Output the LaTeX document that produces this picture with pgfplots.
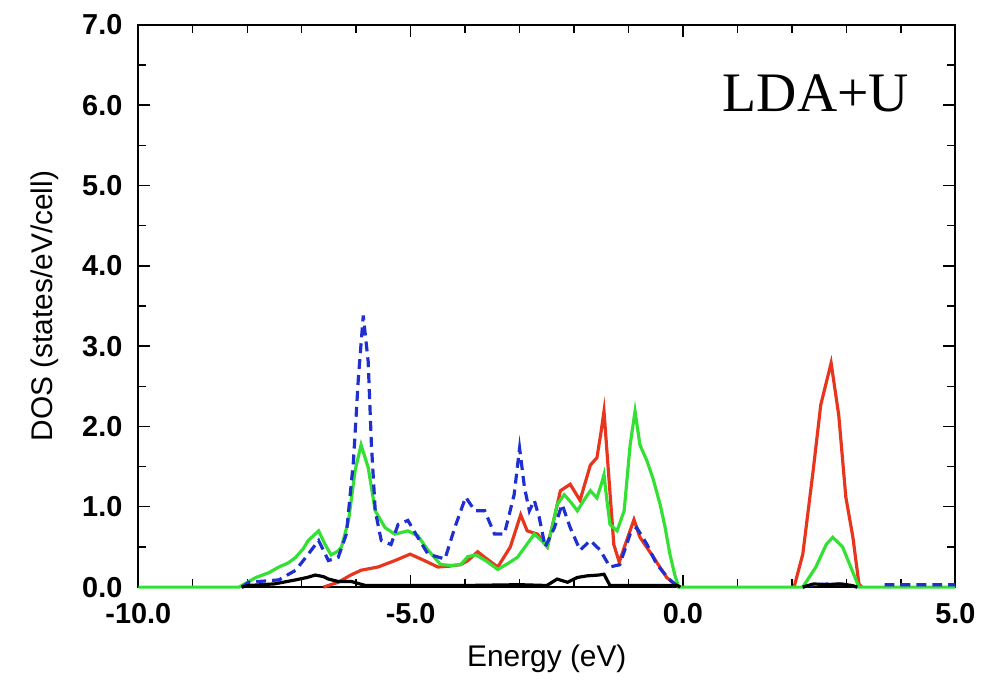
\documentclass[border=0pt]{standalone}
\usepackage{fontspec}
\setmainfont{Liberation Sans}
\newfontfamily\titlefont{Liberation Serif}
\usepackage{pgfplots}
\pgfplotsset{compat=1.18}
\definecolor{cred}{HTML}{E8361E}
\definecolor{cgreen}{HTML}{35E035}
\definecolor{cblue}{HTML}{2030D0}
\begin{document}
\begin{tikzpicture}
\begin{axis}[
  name=ax,
  scale only axis,
  width=410.5pt, height=282.5pt,
  xmin=-10, xmax=5, ymin=0, ymax=7,
  xtick={-10,-5,0,5}, ytick={0,1,...,7},
  minor xtick={-9,-8,-7,-6,-4,-3,-2,-1,1,2,3,4},
  minor ytick={0.5,1.5,2.5,3.5,4.5,5.5,6.5},
  tick align=inside,
  major tick length=6pt, minor tick length=4pt,
  tick style={black, line width=0.7pt},
  axis line style={line width=0.9pt},
  xticklabels={-10.0,-5.0,0.0,5.0},
  yticklabel style={/pgf/number format/fixed, /pgf/number format/fixed zerofill, /pgf/number format/precision=1, /pgf/number format/assume math mode=true, xshift=-4.5pt},
  ticklabel style={font=\fontsize{14.5}{17}\selectfont\bfseries},
  xticklabel style={yshift=-4.5pt},
  xlabel={Energy (eV)},
  ylabel={DOS (states/eV/cell)},
  label style={font=\fontsize{15}{18}\selectfont},
  xlabel style={at={(axis description cs:0.5,-0.1274)}, anchor=center},
  ylabel style={at={(axis description cs:-0.1145,0.5)}, anchor=center},
  unbounded coords=jump,
  clip=false,
]
% red
\addplot[cred, line width=1.6pt] coordinates {
(-6.6,0) (-6.33,0.06) (-6.1,0.15) (-5.91,0.21) (-5.6,0.25) (-5.29,0.33) (-5.01,0.41) (-4.81,0.35) (-4.5,0.25) (-4.3,0.26) (-4.08,0.28) (-3.95,0.33) (-3.77,0.44) (-3.6,0.35) (-3.4,0.25) (-3.17,0.50) (-2.98,0.90) (-2.86,0.70) (-2.67,0.66) (-2.49,0.50) (-2.35,0.9) (-2.25,1.20) (-2.07,1.28) (-1.89,1.08) (-1.70,1.52) (-1.58,1.61) (-1.50,1.95) (-1.45,2.19) (-1.36,1.36) (-1.27,0.53) (-1.17,0.31) (-1.06,0.53) (-0.90,0.84) (-0.79,0.62) (-0.54,0.37) (-0.30,0.12) (-0.08,0)
(0.5,nan)
(2.04,0) (2.2,0.41) (2.39,1.45) (2.53,2.27) (2.72,2.79) (2.86,2.14) (2.99,1.12) (3.12,0.62) (3.23,0.04) (3.28,0)
};
% green
\addplot[cgreen, line width=1.6pt] coordinates {
(-10,0) (-8.15,0) (-7.84,0.12) (-7.6,0.18) (-7.42,0.25) (-7.25,0.3) (-7.11,0.37) (-6.97,0.48) (-6.88,0.58) (-6.69,0.70) (-6.57,0.53) (-6.46,0.40) (-6.33,0.45) (-6.27,0.50) (-6.14,0.83) (-6.02,1.45) (-5.91,1.77) (-5.78,1.49) (-5.65,0.95) (-5.47,0.74) (-5.29,0.66) (-5.05,0.70) (-4.87,0.64) (-4.68,0.46) (-4.45,0.28) (-4.25,0.27) (-4.08,0.28) (-3.95,0.38) (-3.8,0.40) (-3.6,0.32) (-3.4,0.22) (-3.2,0.3) (-3.04,0.37) (-2.9,0.5) (-2.73,0.66) (-2.6,0.58) (-2.49,0.50) (-2.4,0.75) (-2.31,1.03) (-2.18,1.15) (-2.05,1.05) (-1.94,0.95) (-1.82,1.08) (-1.70,1.20) (-1.58,1.11) (-1.50,1.28) (-1.45,1.40) (-1.40,1.1) (-1.34,0.78) (-1.21,0.70) (-1.08,0.95) (-0.97,1.77) (-0.88,2.19) (-0.79,1.77) (-0.66,1.57) (-0.55,1.35) (-0.42,1.03) (-0.33,0.75) (-0.24,0.41) (-0.15,0.15) (-0.08,0) (2.2,0) (2.44,0.25) (2.63,0.53) (2.75,0.62) (2.93,0.50) (3.08,0.25) (3.23,0) (5,0)
};
% blue dashed
\addplot[cblue, line width=1.6pt, dash pattern=on 5pt off 3pt] coordinates {
(-8.1,0) (-7.97,0.06) (-7.42,0.09) (-7.11,0.21) (-6.88,0.41) (-6.69,0.58) (-6.51,0.33) (-6.33,0.37) (-6.18,0.66) (-6.05,1.57) (-5.96,2.60) (-5.87,3.38) (-5.78,2.81) (-5.72,1.77) (-5.65,0.95) (-5.54,0.58) (-5.36,0.53) (-5.23,0.78) (-5.05,0.83) (-4.87,0.62) (-4.68,0.41) (-4.37,0.35) (-4.19,0.74) (-3.99,1.12) (-3.82,0.95) (-3.64,0.95) (-3.46,0.66) (-3.28,0.66) (-3.10,1.15) (-3.00,1.73) (-2.91,1.24) (-2.82,0.95) (-2.73,1.08) (-2.64,0.87) (-2.53,0.50) (-2.36,0.74) (-2.22,1.03) (-2.07,0.74) (-1.89,0.46) (-1.70,0.58) (-1.52,0.46) (-1.34,0.25) (-1.16,0.28) (-0.97,0.66) (-0.85,0.74) (-0.66,0.53) (-0.48,0.28) (-0.24,0.09) (-0.08,0)
(1,nan)
(2.2,0) (2.4,0.03) (2.7,0.04) (3.0,0.03) (3.2,0)
(3.4,nan)
(3.7,0.03) (5,0.03)
};
% black
\addplot[black, line width=1.6pt] coordinates {
(-8.1,0.0) (-7.97,0.02) (-7.5,0.04) (-7.11,0.09) (-6.9,0.12) (-6.75,0.15) (-6.6,0.13) (-6.51,0.10) (-6.33,0.07) (-6.09,0.07) (-5.83,0.02) (-4.0,0.02) (-3.0,0.03) (-2.5,0.02) (-2.31,0.10) (-2.12,0.06) (-1.94,0.12) (-1.76,0.14) (-1.55,0.15) (-1.45,0.16) (-1.34,0.02) (-0.5,0.02) (-0.1,0.02) (-0.05,0)
(1,nan)
(2.2,0) (2.4,0.04) (2.6,0.03) (2.9,0.04) (3.1,0.02) (3.2,0)
};
\node[anchor=base, font=\titlefont\fontsize{28}{32}\selectfont] at (axis description cs:0.8295,0.846) {LDA+U};
\end{axis}
\path ([shift={(-69.5pt,-44pt)}]ax.south west) rectangle ([shift={(11pt,12.5pt)}]ax.north east);
\end{tikzpicture}
\end{document}
